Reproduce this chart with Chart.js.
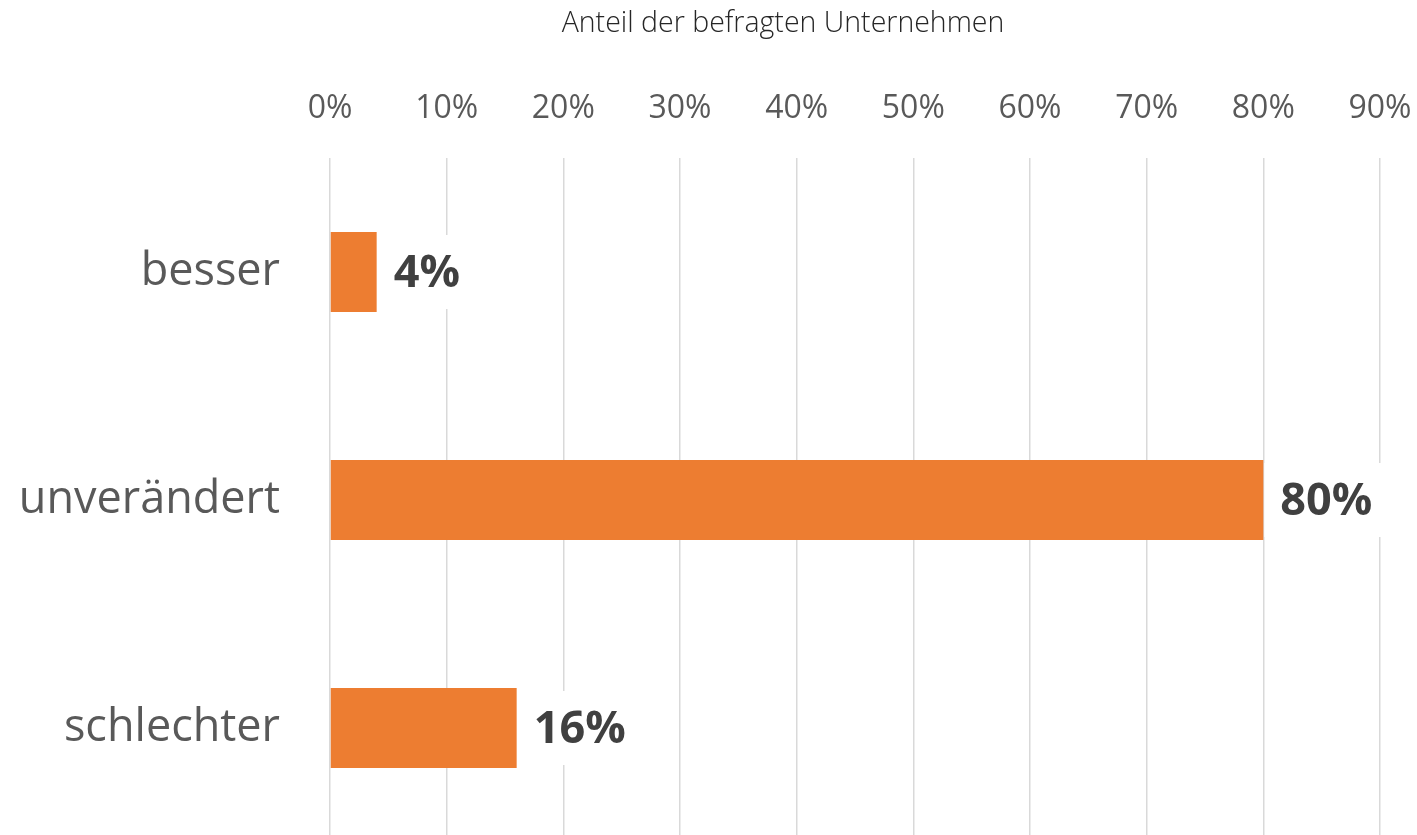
<!DOCTYPE html>
<html>
<head>
<meta charset="utf-8">
<script src="https://cdn.jsdelivr.net/npm/chart.js@4"></script>
<style>
  html, body { margin: 0; padding: 0; background: #fff; overflow: hidden; }
  #wrap { width: 1417px; height: 842px; }
</style>
</head>
<body>
<div id="wrap"><canvas id="chart"></canvas></div>
<script>
const categories = ['besser', 'unverändert', 'schlechter'];
const shares = [4, 80, 16];
const tickValues = [0, 10, 20, 30, 40, 50, 60, 70, 80, 90];
const axisTitle = 'Anteil der befragten Unternehmen';

const FONT = '"Open Sans", "Liberation Sans", sans-serif';

// white label boxes with bold percent values at the bar ends
const valueLabels = {
  id: 'valueLabels',
  afterDatasetsDraw(chart) {
    const ctx = chart.ctx;
    const meta = chart.getDatasetMeta(0);
    ctx.save();
    ctx.font = 'bold 45px ' + FONT;
    ctx.textBaseline = 'middle';
    ctx.textAlign = 'left';
    meta.data.forEach((bar, i) => {
      const txt = shares[i] + '%';
      const w = ctx.measureText(txt).width;
      const x = bar.x + 1;
      ctx.fillStyle = '#ffffff';
      ctx.fillRect(x, bar.y - 37, w + 28, 74);
      ctx.fillStyle = '#404040';
      ctx.fillText(txt, x + 16, bar.y + 2);
    });
    ctx.restore();
  },
  afterDraw(chart) {
    const ctx = chart.ctx;
    ctx.save();
    ctx.font = '300 28.5px ' + FONT;
    ctx.fillStyle = '#262626';
    ctx.textAlign = 'center';
    ctx.textBaseline = 'middle';
    ctx.fillText(axisTitle, 783, 24);
    ctx.restore();
  }
};

new Chart(document.getElementById('chart'), {
  type: 'bar',
  data: {
    labels: categories,
    datasets: [{
      data: shares,
      backgroundColor: '#ED7D31',
      borderWidth: 0,
      categoryPercentage: 0.35,
      barPercentage: 1
    }]
  },
  options: {
    indexAxis: 'y',
    responsive: true,
    maintainAspectRatio: false,
    animation: false,
    layout: { padding: { top: 60, right: 37, bottom: 0, left: 0 } },
    plugins: {
      legend: { display: false },
      tooltip: { enabled: false }
    },
    scales: {
      x: {
        position: 'top',
        min: 0,
        max: 90,
        afterBuildTicks(scale) {
          scale.ticks = tickValues.map(v => ({ value: v }));
        },
        afterFit(scale) {
          scale.height = 98;
          scale.paddingLeft = 0;
          scale.paddingRight = 0;
        },
        border: { display: false },
        grid: { color: '#d9d9d9', lineWidth: 1.5, drawTicks: false },
        ticks: {
          padding: 30,
          color: '#595959',
          font: { family: FONT, size: 32 },
          callback: v => v + '%'
        }
      },
      y: {
        afterFit(scale) {
          scale.width = 330;
          scale.paddingTop = 0;
          scale.paddingBottom = 0;
        },
        border: { display: false },
        grid: { display: false, drawTicks: false },
        ticks: {
          padding: 50,
          color: '#595959',
          font: { family: FONT, size: 45 }
        }
      }
    }
  },
  plugins: [valueLabels]
});
</script>
</body>
</html>
